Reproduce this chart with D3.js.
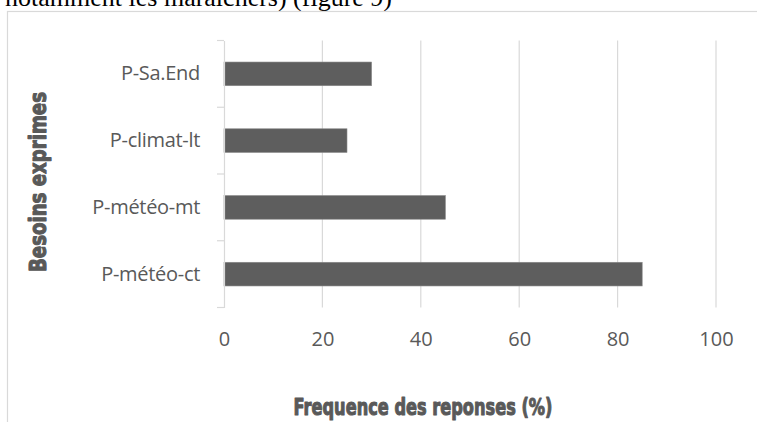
<!DOCTYPE html>
<html>
<head>
<meta charset="utf-8">
<script src="https://cdn.jsdelivr.net/npm/d3@7/dist/d3.min.js"></script>
<style>
  html, body { margin: 0; padding: 0; background: #fff; }
  svg { display: block; }
</style>
</head>
<body>
<svg id="chart" width="757" height="422"></svg>
<script>
// Besoins exprimés — fréquence des réponses (%)
const categories = ["P-Sa.End", "P-climat-lt", "P-météo-mt", "P-météo-ct"];
const frequences = [30, 25, 45, 85];
const xTicks = [0, 20, 40, 60, 80, 100];

const svg = d3.select("#chart");
const W = 757, H = 422;
const margin = { left: 224, right: 41, top: 40.5, bottom: 114.5 };

const grey = "#595959";
const lineGrey = "#d9d9d9";
const titleFont = "'DejaVu Sans', 'Liberation Sans', sans-serif";
const labelFont = "'Open Sans', 'Noto Sans', 'Liberation Sans', sans-serif";

// Running text of the page above the figure
svg.append("text")
  .attr("x", 392).attr("y", 6)
  .attr("text-anchor", "end")
  .attr("font-family", "'Liberation Serif', 'Times New Roman', serif")
  .attr("font-size", 26)
  .attr("fill", "#000")
  .text("notamment les maraîchers) (figure 9)");

// Chart area frame
svg.append("rect")
  .attr("x", 7.5).attr("y", 11.5)
  .attr("width", W + 20).attr("height", H + 20)
  .attr("fill", "none")
  .attr("stroke", lineGrey)
  .attr("stroke-width", 1.2);

const x = d3.scaleLinear()
  .domain([0, 100])
  .range([margin.left, W - margin.right]);

const y = d3.scaleBand()
  .domain(categories)
  .range([margin.top, H - margin.bottom])
  .paddingInner(0.645)
  .paddingOuter(0.3225);

// Vertical gridlines
svg.append("g")
  .selectAll("line")
  .data(xTicks.filter(d => d > 0))
  .join("line")
  .attr("x1", d => x(d)).attr("x2", d => x(d))
  .attr("y1", margin.top).attr("y2", H - margin.bottom)
  .attr("stroke", lineGrey)
  .attr("stroke-width", 1.2);

// Bars
svg.append("g")
  .selectAll("rect")
  .data(categories)
  .join("rect")
  .attr("x", x(0))
  .attr("y", d => y(d))
  .attr("width", (d, i) => x(frequences[i]) - x(0))
  .attr("height", y.bandwidth())
  .attr("fill", "#5e5e5e")
  .attr("stroke", "#8a8a8a")
  .attr("stroke-width", 0.6);

// Category axis with tick marks at band boundaries
const yAxis = d3.axisLeft(y).tickSize(0).tickPadding(24);
const gy = svg.append("g")
  .attr("transform", `translate(${x(0)},0)`)
  .call(yAxis);
gy.select(".domain")
  .attr("stroke", lineGrey)
  .attr("stroke-width", 1.2);
gy.selectAll(".tick text")
  .attr("font-family", labelFont)
  .attr("font-size", 20)
  .attr("letter-spacing", -0.3)
  .attr("fill", grey);

const step = y.step();
const boundaries = [margin.top].concat(categories.map(c => y(c) - y.paddingInner() * step / 2 + step));
svg.append("g")
  .selectAll("line")
  .data(boundaries)
  .join("line")
  .attr("x1", x(0) - 7).attr("x2", x(0))
  .attr("y1", d => d).attr("y2", d => d)
  .attr("stroke", lineGrey)
  .attr("stroke-width", 1.2);

// Value axis labels
const xAxis = d3.axisBottom(x).tickValues(xTicks).tickSize(0).tickPadding(24);
const gx = svg.append("g")
  .attr("transform", `translate(0,${H - margin.bottom})`)
  .call(xAxis);
gx.select(".domain").remove();
gx.selectAll(".tick text")
  .attr("font-family", labelFont)
  .attr("font-size", 20)
  .attr("fill", grey);

// Axis titles, heavy weight
function heavyTitle(sel, len) {
  return sel
    .attr("text-anchor", "middle")
    .attr("font-family", titleFont)
    .attr("font-weight", "bold")
    .attr("font-size", 22.5)
    .attr("textLength", len)
    .attr("lengthAdjust", "spacingAndGlyphs")
    .attr("fill", grey)
    .attr("stroke", grey)
    .attr("stroke-width", 1.1)
    .attr("stroke-linejoin", "round");
}

svg.append("text")
  .attr("x", 423).attr("y", 415)
  .call(heavyTitle, 259)
  .text("Frequence des reponses (%)");

svg.append("text")
  .attr("transform", "translate(46,182) rotate(-90)")
  .call(heavyTitle, 180)
  .text("Besoins exprimes");
</script>
</body>
</html>
